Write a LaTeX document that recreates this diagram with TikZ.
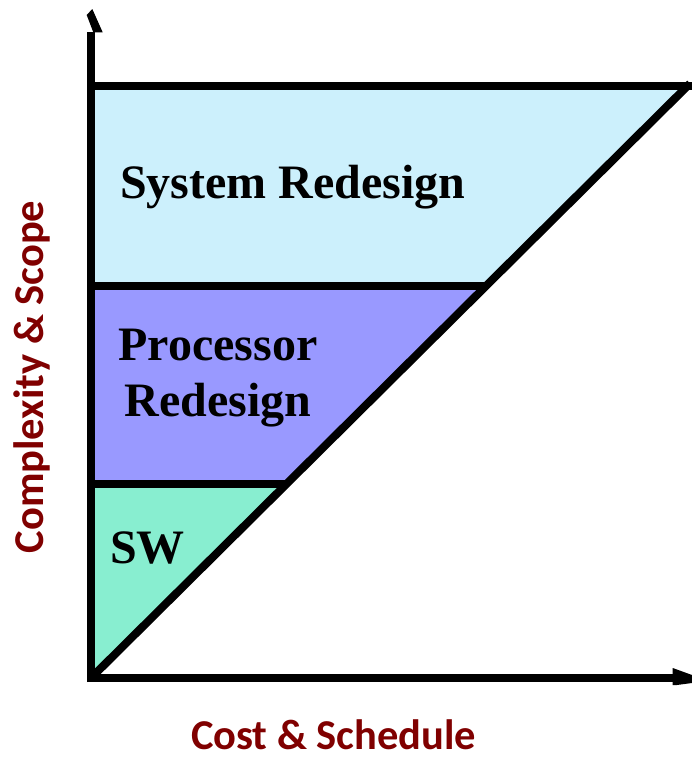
\documentclass[tikz,border=0pt]{standalone}
\usepackage{fontspec}
\setmainfont{Liberation Serif}
\newfontfamily\axisfont{Carlito}

\definecolor{sysblue}{HTML}{CCF0FC}
\definecolor{procblue}{HTML}{9999FF}
\definecolor{swgreen}{HTML}{88EED0}
\definecolor{axisred}{HTML}{800000}

\begin{document}
\begin{tikzpicture}[x=1pt, y=-1pt, line width=8pt,
  band/.style={font=\bfseries\fontsize{48}{56}\selectfont, inner sep=0pt},
  axislabel/.style={font=\axisfont\bfseries\fontsize{42.5}{48}\selectfont, text=axisred, inner sep=0pt}]

\useasboundingbox (0,0) rectangle (692,758);
\clip (0,0) rectangle (692,758);

\fill[sysblue]  (91,85.5) -- (688,85.5) -- (485.6,285.5) -- (91,285.5) -- cycle;
\fill[procblue] (91,285.5) -- (485.6,285.5) -- (286,484) -- (91,484) -- cycle;
\fill[swgreen]  (91,484) -- (286,484) -- (91,678) -- cycle;

\draw (91,85.5) -- (692,85.5);
\draw (91,285.5) -- (487,285.5);
\draw (91,484) -- (288,484);
\draw (91,678) -- (690,83.5);

\draw (91,682) -- (91,32);
\draw[line cap=round] (91,678) -- (674,678);
\fill (86.7,15) -- (92.3,9) -- (102.7,32.3) -- (93.3,32.3) -- cycle;
\fill (672.7,668) -- (692,675) -- (692,683) -- (677,685) -- (672.7,685) -- cycle;

\node[band, anchor=base west] (sys) at (116,198.3) {System Redesign};
\node[band, align=center, anchor=north] (proc) at (218,325) {Processor\\Redesign};
\node[band, anchor=base west] (sw) at (106,563.3) {SW};

\node[axislabel, rotate=90, anchor=base] (ylab) at (43,377) {Complexity \& Scope};
\node[axislabel, anchor=base west] (xlab) at (187,749) {Cost \& Schedule};

\end{tikzpicture}
\end{document}
